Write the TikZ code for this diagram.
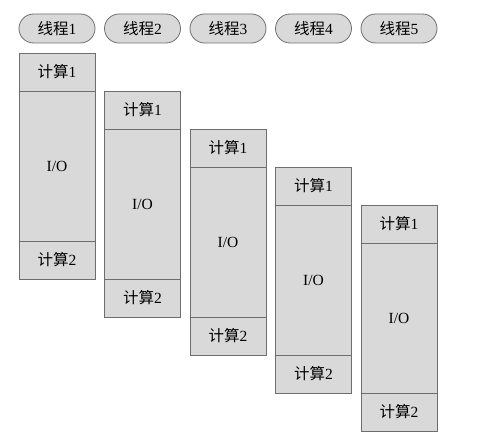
\documentclass[tikz,border=0pt]{standalone}
\usepackage{fontspec}
\setmainfont{Liberation Serif}
\newfontfamily\cjk{Noto Sans CJK SC}
\usetikzlibrary{shapes,shapes.misc,positioning}
\definecolor{boxgray}{RGB}{217,217,217}
\definecolor{edgegray}{RGB}{110,110,110}

\begin{document}
\begin{tikzpicture}[
    x=1pt, y=-1pt,
    thread/.style={rounded rectangle, draw=edgegray, fill=boxgray, minimum width=76pt, minimum height=29pt, inner sep=0pt, font=\fontsize{15.5}{17}\selectfont, line width=0.8pt},
    calc/.style={rectangle, draw=edgegray, fill=boxgray, minimum width=76pt, minimum height=38pt, inner sep=0pt, font=\fontsize{15.5}{17}\selectfont, line width=0.8pt},
    wait/.style={rectangle, draw=edgegray, fill=boxgray, minimum width=76pt, minimum height=150pt, inner sep=0pt, font=\fontsize{15.5}{17}\selectfont, line width=0.8pt}
]
    \useasboundingbox (0,0) rectangle (489,441);

    % Thread headers
    \node[thread] (t1) at (57,28.5) {{\cjk 线程}1};
    \node[thread] (t2) at (142.5,28.5) {{\cjk 线程}2};
    \node[thread] (t3) at (228,28.5) {{\cjk 线程}3};
    \node[thread] (t4) at (313.5,28.5) {{\cjk 线程}4};
    \node[thread] (t5) at (399,28.5) {{\cjk 线程}5};

    % Thread 1
    \node[calc] (a1) at (57,72) {{\cjk 计算}1};
    \node[wait] (io1) at (57,166) {I/O};
    \node[calc] (b1) at (57,260) {{\cjk 计算}2};

    % Thread 2
    \node[calc] (a2) at (142.5,110) {{\cjk 计算}1};
    \node[wait] (io2) at (142.5,204) {I/O};
    \node[calc] (b2) at (142.5,298) {{\cjk 计算}2};

    % Thread 3
    \node[calc] (a3) at (228,148) {{\cjk 计算}1};
    \node[wait] (io3) at (228,242) {I/O};
    \node[calc] (b3) at (228,336) {{\cjk 计算}2};

    % Thread 4
    \node[calc] (a4) at (313.5,186) {{\cjk 计算}1};
    \node[wait] (io4) at (313.5,280) {I/O};
    \node[calc] (b4) at (313.5,374) {{\cjk 计算}2};

    % Thread 5
    \node[calc] (a5) at (399,224) {{\cjk 计算}1};
    \node[wait] (io5) at (399,318) {I/O};
    \node[calc] (b5) at (399,412) {{\cjk 计算}2};
\end{tikzpicture}
\end{document}
